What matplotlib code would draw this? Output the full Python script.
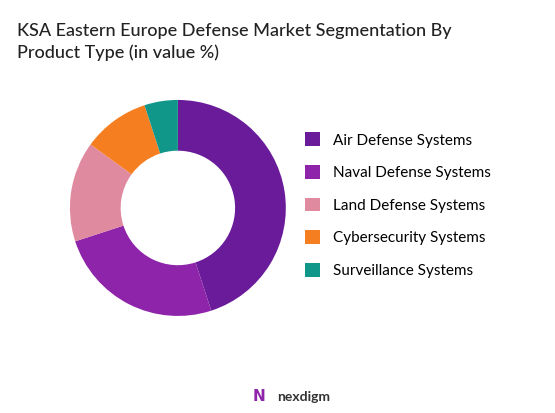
import matplotlib.pyplot as plt

labels = ["Air Defense Systems", "Naval Defense Systems", "Land Defense Systems",
          "Cybersecurity Systems", "Surveillance Systems"]
values = [45, 25, 15, 10, 5]
colors = ["#6a1b9a", "#8e24aa", "#e08aa0", "#f57f20", "#11968a"]

fig = plt.figure(figsize=(5.55, 4.13), dpi=100)
ax = fig.add_axes([0.126, 0.235, 0.389, 0.523])
wedges, _ = ax.pie(values, colors=colors, startangle=90, counterclock=False,
                   wedgeprops=dict(width=0.47, linewidth=0))
ax.set_xlim(-1, 1)
ax.set_ylim(-1, 1)
ax.set_aspect("auto")

fig.text(0.03, 0.945, "KSA Eastern Europe Defense Market Segmentation By\nProduct Type (in value %)",
         fontsize=13, va="top", ha="left", family="Lato", weight="medium",
         linespacing=1.45, color="#222222")

fig.legend(wedges, labels, loc="center left", bbox_to_anchor=(0.525, 0.503),
           frameon=False, handlelength=1.0, handleheight=1.0,
           labelspacing=1.15, prop={"family": "Lato", "size": 11})

fig.text(0.5, 0.03, "nexdigm", fontsize=10, ha="left", color="#333333", family="Lato",
         weight="bold")
fig.text(0.455, 0.03, "N", fontsize=11, ha="left", color="#8e24aa", weight="bold")

fig.savefig("out.png")
